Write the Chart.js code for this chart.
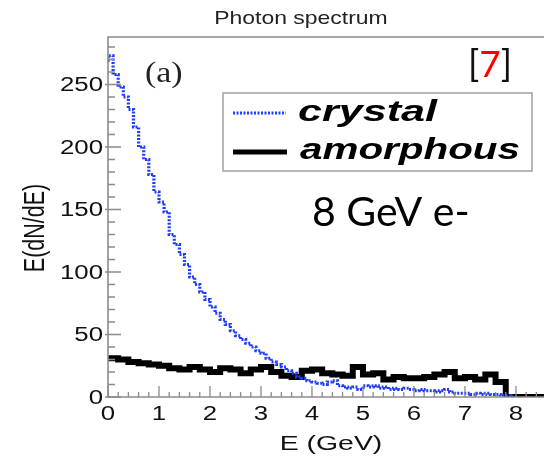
<!DOCTYPE html>
<html>
<head>
<meta charset="utf-8">
<script src="https://cdn.jsdelivr.net/npm/chart.js@4.4.0/dist/chart.umd.min.js"></script>
<style>
  html, body { margin: 0; padding: 0; background: #fff; }
  #wrap { width: 544px; height: 459px; position: relative; }
</style>
</head>
<body>
<div id="wrap"><canvas id="chart"></canvas></div>
<script>
// photon spectrum, E(dN/dE) per energy bin
const crystalBinWidth = 0.1; // GeV
const crystal = [
  268, 273, 258, 248, 240, 230, 216, 200, 190, 178,
  164, 156, 148, 130, 122, 114, 106, 96, 90, 84,
  78, 72, 67, 62, 58, 53, 49, 46, 43, 40,
  37, 35, 31, 28, 26, 24, 21, 19, 16, 15,
  13, 12, 11, 10, 12, 13, 9, 8, 7, 8,
  6, 9, 8, 9, 7, 8, 6, 7, 6, 7,
  6, 5, 6, 5, 5, 4, 5, 6, 4, 3,
  3, 3, 2, 3, 2, 3, 2, 2, 1, 1
];
const amorphousBinWidth = 0.2; // GeV
const amorphous = [
  33, 31, 30, 28, 27, 26, 25, 23, 22, 24,
  22, 20, 23, 22, 19, 22, 24, 20, 17, 16,
  21, 22, 19, 18, 17, 24, 18, 19, 14, 16,
  15, 15, 16, 18, 20, 15, 16, 14, 18, 12
];
const spectrumEnd = 8.0;
const xTickLabels = [0, 1, 2, 3, 4, 5, 6, 7, 8];
const yTickLabels = [0, 50, 100, 150, 200, 250];

function toSteps(values, bw, tailTo) {
  const pts = values.map((v, i) => ({ x: +(i * bw).toFixed(2), y: v }));
  pts.push({ x: spectrumEnd, y: 0 });
  if (tailTo) pts.push({ x: tailTo, y: 0 });
  return pts;
}

// draws text squeezed/stretched horizontally (the figure is stretched sideways)
function stretchText(ctx, text, x, y, font, sx, align) {
  ctx.save();
  ctx.font = font;
  ctx.textBaseline = 'middle';
  const w = ctx.measureText(text).width * sx;
  let left = x;
  if (align === 'center') left = x - w / 2;
  if (align === 'right') left = x - w;
  ctx.translate(left, y);
  ctx.scale(sx, 1);
  ctx.textAlign = 'left';
  ctx.fillText(text, 0, 0);
  ctx.restore();
}

const decor = {
  id: 'decor',
  afterDraw(chart) {
    const ctx = chart.ctx;
    const { left, right, top, bottom } = chart.chartArea;
    const xs = chart.scales.x, ys = chart.scales.y;

    ctx.save();
    // frame
    ctx.strokeStyle = '#8c8c8c';
    ctx.lineWidth = 1.6;
    ctx.beginPath();
    ctx.moveTo(right + 2, top); ctx.lineTo(left, top); ctx.lineTo(left, bottom); ctx.lineTo(right + 2, bottom);
    ctx.stroke();

    // ticks, pointing inward
    ctx.lineWidth = 1.3;
    ctx.beginPath();
    yTickLabels.forEach(v => {
      const py = ys.getPixelForValue(v);
      ctx.moveTo(left - 3, py); ctx.lineTo(left + 13, py);
    });
    for (let v = 10; v < ys.max; v += 10) {
      if (v % 50 === 0) continue;
      const py = ys.getPixelForValue(v);
      ctx.moveTo(left, py); ctx.lineTo(left + 7, py);
    }
    xTickLabels.forEach(v => {
      const px = xs.getPixelForValue(v);
      ctx.moveTo(px, bottom); ctx.lineTo(px, bottom - 11);
    });
    for (let i = 1; i * 0.2 < xs.max; i++) {
      if (i % 5 === 0) continue;
      const px = xs.getPixelForValue(i * 0.2);
      ctx.moveTo(px, bottom); ctx.lineTo(px, bottom - 5);
    }
    ctx.stroke();

    // tick labels
    ctx.fillStyle = '#111';
    const tickFont = '20px "Liberation Sans", Arial, sans-serif';
    yTickLabels.forEach(v => {
      stretchText(ctx, String(v), left - 5, ys.getPixelForValue(v) + 1, tickFont, 1.29, 'right');
    });
    xTickLabels.forEach(v => {
      stretchText(ctx, String(v), xs.getPixelForValue(v), bottom + 17, tickFont, 1.29, 'center');
    });

    // title and axis titles
    ctx.fillStyle = '#222';
    stretchText(ctx, 'Photon spectrum', 301, 19, '18.5px "Liberation Sans", Arial, sans-serif', 1.24, 'center');
    ctx.fillStyle = '#111';
    stretchText(ctx, 'E (GeV)', 331, 444, '20px "Liberation Sans", Arial, sans-serif', 1.42, 'center');
    ctx.save();
    ctx.translate(36, 228);
    ctx.rotate(-Math.PI / 2);
    ctx.scale(1, 1.4);
    ctx.font = '21.5px "Liberation Sans", Arial, sans-serif';
    ctx.textAlign = 'center';
    ctx.textBaseline = 'middle';
    ctx.fillText('E(dN/dE)', 0, 0);
    ctx.restore();

    // (a) label
    ctx.fillStyle = '#222';
    stretchText(ctx, '(a)', 145, 74, '29px "Liberation Serif", "Times New Roman", serif', 1.17, 'left');

    // [7]
    ctx.font = '37px Lato, "Liberation Sans", sans-serif';
    ctx.textBaseline = 'alphabetic';
    ctx.textAlign = 'left';
    let bx = 468;
    const by = 77;
    ctx.fillStyle = '#111';
    ctx.fillText('[', bx, by); bx += ctx.measureText('[').width;
    ctx.fillStyle = '#ff0000';
    ctx.fillText('7', bx, by); bx += ctx.measureText('7').width;
    ctx.fillStyle = '#111';
    ctx.fillText(']', bx, by);

    // 8 GeV e-
    ctx.fillStyle = '#000';
    ctx.font = '41px Lato, "Liberation Sans", sans-serif';
    ctx.fillText('8 GeV e-', 312, 226);

    // legend
    ctx.fillStyle = '#fff';
    ctx.fillRect(223, 93, 309, 78);
    ctx.strokeStyle = '#a0a0a0';
    ctx.lineWidth = 1.5;
    ctx.strokeRect(223, 93, 309, 78);
    const ds = chart.data.datasets;
    ctx.strokeStyle = ds[0].borderColor;
    ctx.lineWidth = 3;
    ctx.setLineDash(ds[0].borderDash);
    ctx.beginPath(); ctx.moveTo(233, 113); ctx.lineTo(286, 113); ctx.stroke();
    ctx.setLineDash([]);
    ctx.strokeStyle = ds[1].borderColor;
    ctx.lineWidth = 5;
    ctx.beginPath(); ctx.moveTo(233, 152); ctx.lineTo(287, 152); ctx.stroke();
    ctx.fillStyle = '#000';
    const legFont = 'italic bold 29px "Liberation Sans", Arial, sans-serif';
    ctx.font = legFont;
    const w1 = ctx.measureText(ds[0].label).width, w2 = ctx.measureText(ds[1].label).width;
    stretchText(ctx, ds[0].label, 298, 113, legFont, 139 / w1, 'left');
    stretchText(ctx, ds[1].label, 300, 151, legFont, 220 / w2, 'left');
    ctx.restore();
  }
};

new Chart(document.getElementById('chart'), {
  type: 'line',
  data: {
    datasets: [{
      label: 'crystal',
      data: toSteps(crystal, crystalBinWidth),
      borderColor: '#1f3dff',
      borderWidth: 3.2,
      borderDash: [2, 1.5],
      stepped: 'after',
      pointRadius: 0,
      fill: false
    }, {
      label: 'amorphous',
      data: toSteps(amorphous, amorphousBinWidth, 8.7),
      borderColor: '#000000',
      borderWidth: 6,
      stepped: 'after',
      pointRadius: 0,
      fill: false
    }]
  },
  options: {
    responsive: true,
    maintainAspectRatio: false,
    animation: false,
    layout: { padding: { top: 37, right: 0, bottom: 0, left: 0 } },
    plugins: {
      legend: { display: false },
      title: { display: false },
      tooltip: { enabled: false }
    },
    scales: {
      x: {
        type: 'linear',
        min: 0,
        max: 8.55,
        grid: { display: false },
        border: { display: false },
        ticks: { display: false },
        afterFit: s => { s.height = 62; }
      },
      y: {
        min: 0,
        max: 288,
        grid: { display: false },
        border: { display: false },
        ticks: { display: false },
        afterFit: s => { s.width = 108; }
      }
    }
  },
  plugins: [decor]
});
</script>
</body>
</html>
